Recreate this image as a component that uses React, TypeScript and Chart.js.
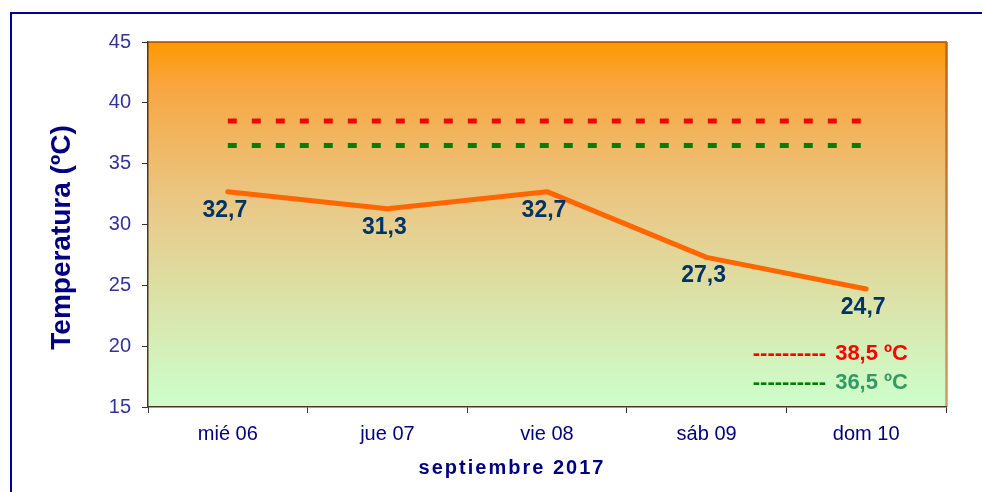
import React, { useEffect, useRef } from "react";
import { Chart, registerables } from "chart.js";

Chart.register(...registerables);

const categories = ["mié 06", "jue 07", "vie 08", "sáb 09", "dom 10"];
const temperatures = [32.7, 31.3, 32.7, 27.3, 24.7];
const thresholdHigh = [38.5, 38.5, 38.5, 38.5, 38.5];
const thresholdLow = [36.5, 36.5, 36.5, 36.5, 36.5];
const yTicks = [15, 20, 25, 30, 35, 40, 45];
const legendLabels = ["38,5 ºC", "36,5 ºC"];
const yTitle = "Temperatura (ºC)";
const xTitle = "septiembre 2017";

const FONT = "Arial, 'Liberation Sans', sans-serif";
const fmt = (v: number) => v.toFixed(1).replace(".", ",");

const decorPlugin = {
  id: "decor",
  beforeDraw(chart: any) {
    const { ctx, chartArea: a } = chart;
    ctx.save();
    const g = ctx.createLinearGradient(0, a.top, 0, a.bottom);
    g.addColorStop(0, "#FF9900");
    g.addColorStop(0.12, "#F8A640");
    g.addColorStop(0.45, "#E9C988");
    g.addColorStop(1, "#CCFFCC");
    ctx.fillStyle = g;
    ctx.fillRect(a.left, a.top, a.right - a.left, a.bottom - a.top);
    ctx.strokeStyle = "#A64A05";
    ctx.lineWidth = 1.5;
    ctx.beginPath();
    ctx.moveTo(a.left, a.top);
    ctx.lineTo(a.right + 1, a.top);
    ctx.stroke();
    const rg = ctx.createLinearGradient(0, a.top, 0, a.bottom);
    rg.addColorStop(0, "#C0601C");
    rg.addColorStop(1, "#C8A070");
    ctx.strokeStyle = rg;
    ctx.lineWidth = 2.5;
    ctx.beginPath();
    ctx.moveTo(a.right + 0.5, a.top);
    ctx.lineTo(a.right + 0.5, a.bottom);
    ctx.stroke();
    ctx.restore();
  },
  afterDraw(chart: any) {
    const { ctx, chartArea: a } = chart;
    ctx.save();
    ctx.strokeStyle = "#00009C";
    ctx.lineWidth = 2;
    ctx.beginPath();
    ctx.moveTo(11, chart.height);
    ctx.lineTo(11, 13);
    ctx.lineTo(chart.width, 13);
    ctx.stroke();

    const meta = chart.getDatasetMeta(0);
    ctx.font = `bold 23px ${FONT}`;
    ctx.fillStyle = "#003366";
    ctx.textAlign = "center";
    ctx.textBaseline = "alphabetic";
    meta.data.forEach((pt: any, i: number) => {
      ctx.fillText(fmt(temperatures[i]), pt.x - 3, pt.y + 25);
    });

    const colors = [
      { dash: "#FF0000", text: "#FF0000" },
      { dash: "#008000", text: "#339966" },
    ];
    ctx.font = `bold 22px ${FONT}`;
    const rightX = a.right - 38;
    const baselines = [a.bottom - 47, a.bottom - 18];
    ctx.textAlign = "left";
    legendLabels.forEach((lab, i) => {
      const tw = ctx.measureText(lab).width;
      const dashes = "----------";
      const dw = ctx.measureText(dashes + " ").width;
      const tx = rightX - tw;
      ctx.fillStyle = colors[i].text;
      ctx.fillText(lab, tx, baselines[i]);
      ctx.fillStyle = colors[i].dash;
      ctx.fillText(dashes, tx - dw - 3, baselines[i]);
    });

    ctx.save();
    ctx.translate(62, (a.top + a.bottom) / 2 + 13);
    ctx.rotate(-Math.PI / 2);
    ctx.font = `bold 28px ${FONT}`;
    ctx.fillStyle = "#000080";
    ctx.textAlign = "center";
    ctx.textBaseline = "middle";
    ctx.fillText(yTitle, 0, 0);
    ctx.restore();

    ctx.font = `bold 20px ${FONT}`;
    (ctx as any).letterSpacing = "2px";
    ctx.fillStyle = "#000080";
    ctx.textAlign = "center";
    ctx.textBaseline = "middle";
    ctx.fillText(xTitle, (a.left + a.right) / 2 - 35, 468);
    ctx.restore();
  },
};

export default function App() {
  const ref = useRef<HTMLCanvasElement | null>(null);
  useEffect(() => {
    if (!ref.current) return;
    const chart = new Chart(ref.current, {
      type: "line",
      data: {
        labels: categories,
        datasets: [
          {
            data: temperatures,
            borderColor: "#FF6600",
            borderWidth: 5,
            pointRadius: 0,
            tension: 0,
            borderCapStyle: "round",
            borderJoinStyle: "round",
          },
          {
            data: thresholdHigh,
            borderColor: "#FF0000",
            borderWidth: 5,
            borderDash: [9, 15],
            pointRadius: 0,
          },
          {
            data: thresholdLow,
            borderColor: "#008000",
            borderWidth: 5,
            borderDash: [9, 15],
            pointRadius: 0,
          },
        ],
      },
      options: {
        animation: false,
        responsive: false,
        maintainAspectRatio: false,
        layout: { padding: { left: 0, top: 42, right: 36, bottom: 0 } },
        plugins: { legend: { display: false }, tooltip: { enabled: false } },
        scales: {
          x: {
            offset: true,
            afterFit: (s: any) => {
              s.height = 85;
            },
            grid: {
              drawOnChartArea: false,
              drawTicks: true,
              tickLength: 6,
              color: "#333333",
              offset: true,
            },
            border: { display: true, color: "#4B3621", width: 1.5 },
            ticks: {
              color: "#000080",
              font: { family: FONT, size: 20 },
              padding: 9,
              maxRotation: 0,
            },
          },
          y: {
            min: 15,
            max: 45,
            afterFit: (s: any) => {
              s.width = 148;
            },
            afterBuildTicks: (s: any) => {
              s.ticks = yTicks.map((v) => ({ value: v }));
            },
            grid: {
              drawOnChartArea: false,
              drawTicks: true,
              tickLength: 6,
              color: "#333333",
            },
            border: { display: true, color: "#4B3621", width: 1.5 },
            ticks: {
              color: "#333399",
              font: { family: FONT, size: 20 },
              padding: 11,
            },
          },
        },
      },
      plugins: [decorPlugin],
    } as any);
    return () => chart.destroy();
  }, []);
  return (
    <div style={{ position: "absolute", left: 0, top: 0, width: 982, height: 492, background: "#FFFFFF" }}>
      <canvas ref={ref} width={982} height={492} style={{ width: 982, height: 492, display: "block" }} />
    </div>
  );
}
